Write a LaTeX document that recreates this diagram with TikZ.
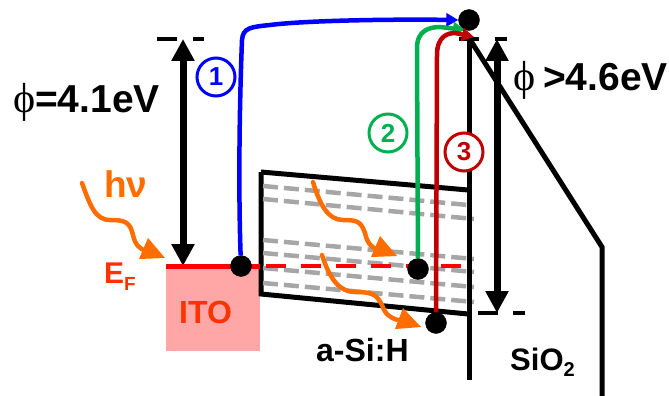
\documentclass[tikz,border=0pt]{standalone}
\usepackage{fontspec}
\setmainfont{Liberation Sans}
\newfontfamily\phifont{Liberation Serif}
\usetikzlibrary{arrows.meta}
\usetikzlibrary{calc}
\definecolor{bandred}{RGB}{255,0,0}
\definecolor{labelred}{RGB}{255,51,0}
\definecolor{itopink}{RGB}{255,167,167}
\definecolor{photon}{RGB}{255,108,0}
\definecolor{path2}{RGB}{0,176,80}
\definecolor{path3}{RGB}{192,0,0}
\definecolor{path1}{RGB}{0,0,255}
\definecolor{trapgrey}{RGB}{166,166,166}
\newcommand{\carrierradius}{21pt}
\newcommand{\bigfont}{\fontsize{39}{44}\selectfont\bfseries}
\newcommand{\midfont}{\fontsize{32}{36}\selectfont\bfseries}
\newcommand{\phisign}{\fontsize{42}{44}\selectfont\phifont ϕ}
\tikzset{carrier/.style={circle, draw, fill=black, inner sep=0pt, minimum width=\carrierradius}}
\tikzset{txt/.style={anchor=base west, inner sep=0pt}}
\tikzset{pathnum/.style={circle, draw=#1, text=#1, fill=white, line width=3pt, inner sep=0pt, minimum width=38pt, font=\fontsize{26}{28}\selectfont\bfseries}}
\tikzset{barrier/.style={-{Triangle[width=22pt,length=22pt]}, line width=7pt}}
\tikzset{wall/.style={line width=5pt, line join=miter}}
\tikzset{tick/.style={line width=4.5pt}}
\tikzset{trap/.style={trapgrey, line width=4.5pt, dash pattern=on 15pt off 6pt}}
\tikzset{wave/.style={photon, line width=4.5pt, line cap=round}}
\tikzset{route/.style={line width=4.5pt, -{Triangle[width=13pt,length=12pt]}}}
\begin{document}
\begin{tikzpicture}[x=1pt,y=-1pt]
\useasboundingbox (0,0) rectangle (669,396);

\fill[itopink] (166,266) rectangle (260,351);

\coordinate (vacl) at (183,39);
\coordinate (ef) at (183,266);
\coordinate (vacr) at (497,39);
\coordinate (vbr) at (497,313);

% ticks
\draw[tick] (157,39) -- (177,39);
\draw[tick] (193,39) -- (204,39);
\draw[tick] (459,39) -- (479,39);
\draw[tick] (495,39) -- (507,39);
\draw[tick] (478,313) -- (498,313);
\draw[tick] (513,313) -- (525,313);

\draw[barrier] (183,150) -- (vacl);
\draw[barrier] (183,150) -- (ef);
\draw[barrier] (vbr |- 0,150) -- (vacr);
\draw[barrier] (vbr |- 0,150) -- (vbr);

% a-Si:H box and oxide
\draw[wall] (261,172) -- (468,190);
\draw[wall] (468,314) -- (261,294) -- (261,172);
\draw[wall] (469,38) -- (469,380);
\draw[wall] (469,38) -- (602,247) -- (602,396);

\draw[trap] (263,186) -- (468,205);
\draw[trap] (263,199) -- (474,219);
\draw[trap] (263,240) -- (474,259);
\draw[trap] (263,253) -- (474,272);
\draw[trap] (263,268) -- (474,287);
\draw[trap] (263,283) -- (474,302);

\draw[bandred, line width=5pt] (166,266) -- (260,266);
\draw[bandred, line width=4.5pt, dash pattern=on 20pt off 15pt] (266,266) -- (461,266);

\node[carrier] (itodot) at (241,266) {};
\node[carrier] (topdot) at (469,20) {};
\node[carrier] (gapdot) at (418,269) {};
\node[carrier] (vbdot) at (436,323) {};
\coordinate (tip2) at (465,30);
\coordinate (tip3) at (474,37);

\draw[route, path1] (itodot) .. controls (238,180) and (240,90) .. (242,40) .. controls (243,28) and (250,27) .. (270,25) .. controls (300,21) and (380,19) .. (topdot.west);
\draw[route, path2] (gapdot) -- (417,48) .. controls (417,30) and (430,27) .. (440,27) -- (tip2);
\draw[route, path3] (vbdot) -- (437,55) .. controls (437,36) and (448,33) .. (455,33) -- (tip3);

% photons
\draw[wave] (82,183) .. controls (90,205) and (95,220) .. (110,220) .. controls (125,220) and (130,222) .. (133,235) .. controls (135,245) and (140,249) .. (146,251);
\fill[photon] (139,259) -- (148,238) -- (165,258) -- cycle;
\draw[wave] (313,182) .. controls (320,205) and (328,220) .. (343,220) .. controls (358,220) and (361,222) .. (365,233) .. controls (367,243) and (372,248) .. (378,250);
\fill[photon] (371,257) -- (380,236) -- (397,256) -- cycle;
\draw[wave] (322,255) .. controls (330,280) and (340,292) .. (355,292) .. controls (375,292) and (377,296) .. (382,305) .. controls (385,314) and (390,318) .. (398,320);
\fill[photon] (395,329) -- (403,308) -- (421,327) -- cycle;

\node[pathnum=path1] (num1) at (216,77) {1};
\node[pathnum=path2] (num2) at (388,133) {2};
\node[pathnum=path3] (num3) at (464,152) {3};

\node[txt] (philabel) at (13,112) {\phisign};
\node[txt] (ellabel) at (35,112) {\bigfont =4.1eV};
\node[txt] (phirlabel) at (513,90) {\phisign};
\node[txt] (oxlabel) at (543,90) {\bigfont >4.6eV};
\node[txt, photon] (hnu) at (104,197) {\fontsize{37}{40}\selectfont\bfseries hν};
\node[txt, labelred] (eflabel) at (104,283) {\fontsize{30}{32}\selectfont\bfseries E\raisebox{-7pt}{\fontsize{19}{20}\selectfont F}};
\node[txt, labelred] (itolabel) at (179,323) {\midfont ITO};
\node[txt] (silabel) at (316,361) {\midfont a-Si:H};
\node[txt] (oxide) at (510,370) {\fontsize{31}{34}\selectfont\bfseries SiO\raisebox{-6pt}{\fontsize{20}{22}\selectfont 2}};

\end{tikzpicture}
\end{document}
